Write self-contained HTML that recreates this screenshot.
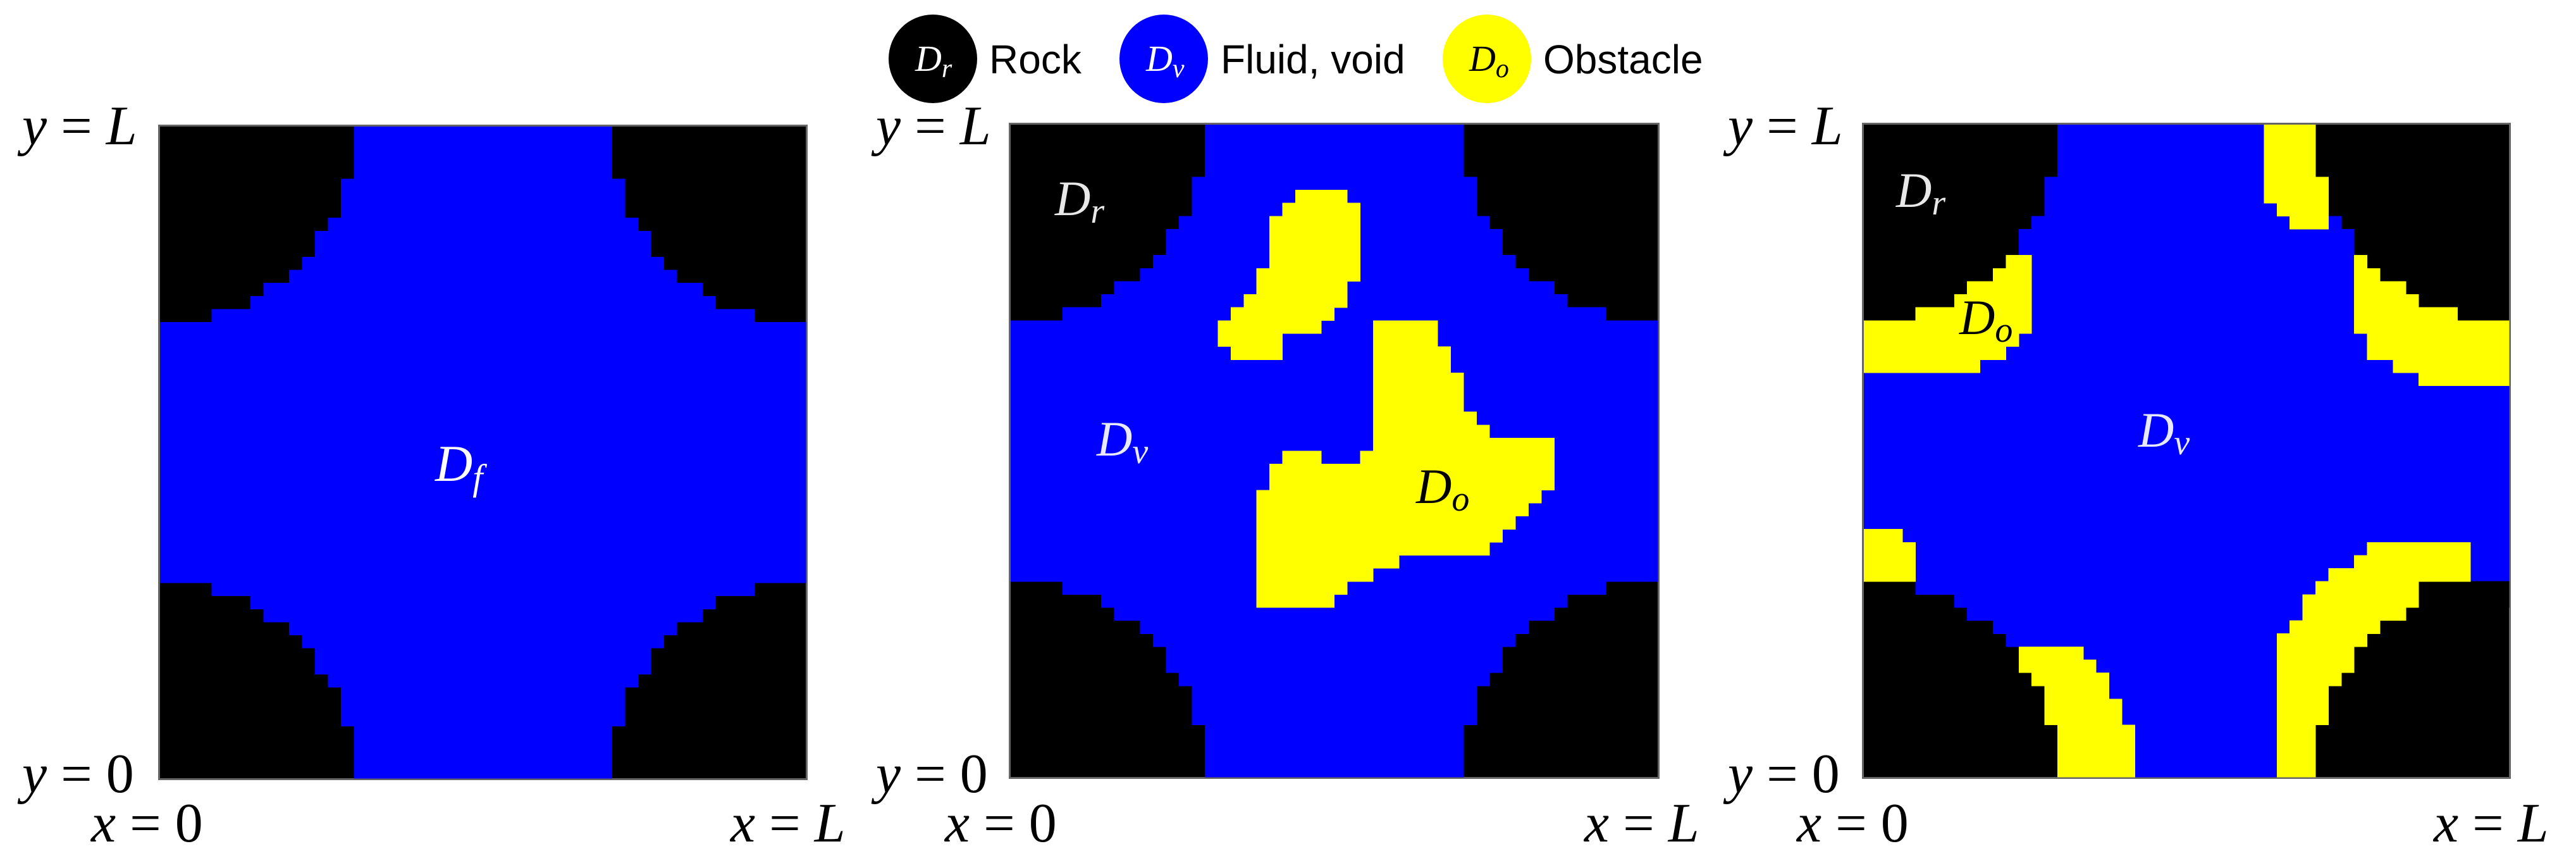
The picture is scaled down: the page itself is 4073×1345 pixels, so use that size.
<!DOCTYPE html>
<html><head><meta charset="utf-8"><style>
html,body{margin:0;padding:0;background:#fff;}
body{width:4073px;height:1345px;overflow:hidden;position:relative;}
svg{position:absolute;left:0;top:0;}
.m{font-family:"Liberation Serif",serif;font-style:italic;}
.n{font-family:"Liberation Serif",serif;font-style:normal;}
.s{font-family:"Liberation Sans",sans-serif;}
</style></head><body>
<svg id="sv" width="4073" height="1345" viewBox="0 0 4073 1345" xmlns="http://www.w3.org/2000/svg">
<g id="grids"></g>
<circle cx="1475" cy="93" r="70" fill="#000"/>
<circle cx="1840" cy="93" r="70" fill="#0000ff"/>
<circle cx="2351" cy="93" r="70" fill="#ffff00"/>
<text x="1447" y="112" class="m" font-size="58" fill="#fff">D<tspan font-size="42" dy="10">r</tspan></text>
<text x="1812" y="112" class="m" font-size="58" fill="#fff">D<tspan font-size="42" dy="10">v</tspan></text>
<text x="2323" y="112" class="m" font-size="58" fill="#000">D<tspan font-size="42" dy="10">o</tspan></text>
<text x="1564" y="116" class="s" font-size="64" fill="#000">Rock</text>
<text x="1930" y="116" class="s" font-size="64" fill="#000">Fluid, void</text>
<text x="2440" y="116" class="s" font-size="64" fill="#000">Obstacle</text>
<g font-size="88" fill="#000">
<text x="35" y="228"><tspan class="m">y</tspan><tspan class="n"> = </tspan><tspan class="m">L</tspan></text>
<text x="35" y="1252"><tspan class="m">y</tspan><tspan class="n"> = 0</tspan></text>
<text x="144" y="1330"><tspan class="m">x</tspan><tspan class="n"> = 0</tspan></text>
<text x="1155" y="1330"><tspan class="m">x</tspan><tspan class="n"> = </tspan><tspan class="m">L</tspan></text>
<text x="1385" y="228"><tspan class="m">y</tspan><tspan class="n"> = </tspan><tspan class="m">L</tspan></text>
<text x="1385" y="1252"><tspan class="m">y</tspan><tspan class="n"> = 0</tspan></text>
<text x="1494" y="1330"><tspan class="m">x</tspan><tspan class="n"> = 0</tspan></text>
<text x="2505" y="1330"><tspan class="m">x</tspan><tspan class="n"> = </tspan><tspan class="m">L</tspan></text>
<text x="2732" y="228"><tspan class="m">y</tspan><tspan class="n"> = </tspan><tspan class="m">L</tspan></text>
<text x="2732" y="1252"><tspan class="m">y</tspan><tspan class="n"> = 0</tspan></text>
<text x="2841" y="1330"><tspan class="m">x</tspan><tspan class="n"> = 0</tspan></text>
<text x="3848" y="1330"><tspan class="m">x</tspan><tspan class="n"> = </tspan><tspan class="m">L</tspan></text>
</g>
<text x="688" y="760" class="m" font-size="82" fill="#fff">D<tspan font-size="58" dy="14">f</tspan></text>
<text x="1668" y="340" class="m" font-size="78" fill="#e8e8e8">D<tspan font-size="56" dy="12">r</tspan></text>
<text x="1734" y="720" class="m" font-size="78" fill="#e8e8ff">D<tspan font-size="56" dy="12">v</tspan></text>
<text x="2239" y="795" class="m" font-size="78" fill="#000">D<tspan font-size="56" dy="12">o</tspan></text>
<text x="2998" y="327" class="m" font-size="78" fill="#e8e8e8">D<tspan font-size="56" dy="12">r</tspan></text>
<text x="3098" y="528" class="m" font-size="78" fill="#000">D<tspan font-size="56" dy="12">o</tspan></text>
<text x="3381" y="706" class="m" font-size="78" fill="#e8e8ff">D<tspan font-size="56" dy="12">v</tspan></text>
</svg>
<script>
(function(){
var NS="http://www.w3.org/2000/svg";
var g=document.getElementById("grids");
function rect(x,y,w,h,f){var r=document.createElementNS(NS,"rect");r.setAttribute("x",x);r.setAttribute("y",y);r.setAttribute("width",w);r.setAttribute("height",h);r.setAttribute("fill",f);r.setAttribute("shape-rendering","crispEdges");g.appendChild(r);}
var prof=[15,15,15,15,14,14,14,13,12,12,11,10,8,7,4];
function lc(r){if(r<15)return prof[r];if(r>34)return prof[49-r];return 0;}
function panel(x0,y0,w,h,obs,blk){
  var cw=w/50,ch=h/50;
  rect(x0-3,y0-3,w+6,h+6,"#666");
  rect(x0,y0,w,h,"#000");
  for(var r=0;r<50;r++){var c=lc(r);
    rect(x0+c*cw,y0+r*ch,(50-2*c)*cw+0.5,ch+0.6,"#0000ff");}
  blk=blk||[];
  for(var i=0;i<blk.length;i++){var o=blk[i];
    for(var r=o[0];r<=o[1];r++){rect(x0+o[2]*cw,y0+r*ch,(o[3]-o[2])*cw+0.5,ch+0.6,"#000");}}
  for(var i=0;i<obs.length;i++){var o=obs[i];
    for(var r=o[0];r<=o[1];r++){rect(x0+o[2]*cw,y0+r*ch,(o[3]-o[2])*cw+0.5,ch+0.6,"#ffff00");}}
}
panel(253,200,1021,1030,[]);
var o2=[
[5,5,22,26],[6,6,21,27],[7,10,20,27],[11,11,19,27],[12,12,19,26],[13,13,18,26],[14,14,17,25],[15,15,16,24],[16,16,16,21],[17,17,17,21],
[15,16,28,33],[17,18,28,34],[19,21,28,35],[22,22,28,36],[23,23,28,37],[24,24,28,42],[25,25,21,24],[25,25,27,42],
[26,27,20,42],[28,28,19,41],[29,29,19,40],[30,30,19,39],[31,31,19,38],[32,32,19,37],[33,33,19,30],[34,34,19,28],[35,35,19,26],[36,36,19,25]];
panel(1598,197,1023,1031,o2);
var o3=[
[0,3,31,35],[4,5,31,36],[6,6,32,36],[7,7,33,36],
[10,10,11,13],[11,11,10,13],[12,12,8,13],[13,13,7,13],[14,14,4,13],[15,15,0,13],[16,16,0,12],[17,17,0,11],[18,18,0,9],
[10,10,38,39],[11,11,38,40],[12,12,38,42],[13,13,38,43],[14,14,38,46],[15,15,38,50],[16,17,39,50],[18,18,41,50],[19,19,43,50],
[31,31,0,3],[32,34,0,4],
[40,40,12,17],[41,41,12,18],[42,42,13,19],[43,43,14,19],[44,45,14,20],[46,49,15,21],
[32,32,39,47],[33,33,38,47],[34,34,36,47],[35,35,35,43],[36,36,34,43],[37,37,34,42],[38,38,33,40],[39,39,32,39],[40,41,32,38],[42,42,32,37],[43,45,32,36],[46,49,32,35]];
panel(2947,197,1020,1031,o3,[[35,35,43,50],[36,36,43,50]]);
})();
</script>
</body></html>
